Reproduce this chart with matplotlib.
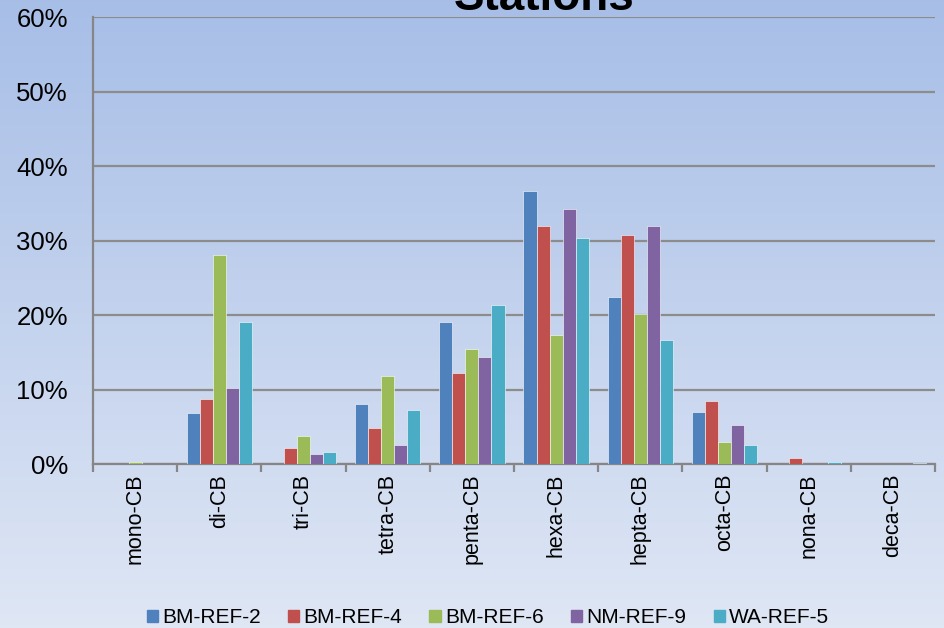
import numpy as np
import matplotlib.pyplot as plt
from matplotlib.patches import Patch

plt.rcParams['font.family'] = ['Liberation Sans', 'DejaVu Sans']

categories = ["mono-CB", "di-CB", "tri-CB", "tetra-CB", "penta-CB",
              "hexa-CB", "hepta-CB", "octa-CB", "nona-CB", "deca-CB"]
stations = ["BM-REF-2", "BM-REF-4", "BM-REF-6", "NM-REF-9", "WA-REF-5"]

bm_ref_2 = [0.0, 6.8, 0.0, 8.1, 19.0, 36.7, 22.4, 7.0, 0.0, 0.0]
bm_ref_4 = [0.0, 8.7, 2.1, 4.9, 12.2, 31.9, 30.7, 8.4, 0.85, 0.0]
bm_ref_6 = [0.3, 28.0, 3.7, 11.8, 15.4, 17.3, 20.1, 2.95, 0.0, 0.0]
nm_ref_9 = [0.0, 10.2, 1.3, 2.5, 14.4, 34.2, 31.9, 5.3, 0.0, 0.0]
wa_ref_5 = [0.0, 19.1, 1.65, 7.25, 21.4, 30.4, 16.7, 2.6, 0.3, 0.2]

series = [bm_ref_2, bm_ref_4, bm_ref_6, nm_ref_9, wa_ref_5]
colors = ["#4f81bd", "#c0504d", "#9bbb59", "#8064a2", "#4bacc6"]

fig = plt.figure(figsize=(9.44, 6.28), dpi=100)

# vertical gradient background over the whole figure
bg = fig.add_axes([0, 0, 1, 1], zorder=-10)
grad = np.linspace(0, 1, 256).reshape(-1, 1)
top = np.array([0.655, 0.745, 0.905])
bottom = np.array([0.875, 0.905, 0.960])
img = top + (bottom - top) * grad[:, :, None]
bg.imshow(img, aspect='auto', extent=[0, 1, 0, 1])
bg.axis('off')

ax = fig.add_axes([0.0985, 0.2611, 0.892, 0.7118])
ax.set_facecolor('none')

x = np.arange(len(categories))
w = 0.155
for i, (vals, c, name) in enumerate(zip(series, colors, stations)):
    ax.bar(x + (i - 2) * w, vals, width=w, color=c, label=name,
           edgecolor='white', linewidth=0.4, zorder=3)

ax.set_xlim(-0.5, len(categories) - 0.5)
ax.set_ylim(0, 60)
ax.set_yticks(range(0, 61, 10))
ax.set_yticklabels([f"{v}%" for v in range(0, 61, 10)], fontsize=18.5)
ax.yaxis.grid(True, color='#8c8c8c', linewidth=1.6, zorder=0)
ax.tick_params(axis='y', length=0, pad=18)

ax.set_xticks(x)
ax.set_xticklabels(categories, rotation=90, fontsize=15.5)
ax.tick_params(axis='x', length=0, pad=7)
ax.set_xticks(np.arange(-0.5, len(categories)), minor=True)
ax.tick_params(axis='x', which='minor', length=6, width=1.6, color='#868686')

for s in ['top', 'right']:
    ax.spines[s].set_visible(False)
for s in ['left', 'bottom']:
    ax.spines[s].set_color('#868686')
    ax.spines[s].set_linewidth(1.6)

fig.text(0.576, 0.984, "Stations", ha='center', va='baseline',
         fontsize=33, fontweight='bold')

handles = [Patch(color=c) for c in colors]
fig.legend(handles, stations, loc='center', bbox_to_anchor=(0.517, 0.016),
           ncol=5, frameon=False, fontsize=15, handlelength=0.55,
           handleheight=0.55, handletextpad=0.2, columnspacing=1.3)

fig.savefig("out.png", dpi=100)
